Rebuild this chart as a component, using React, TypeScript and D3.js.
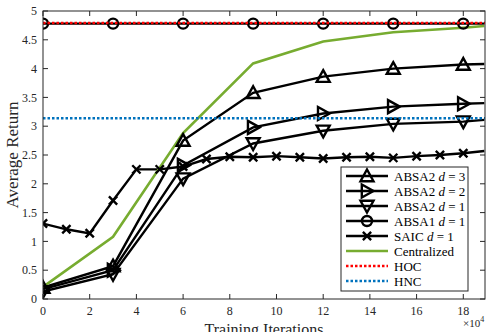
import * as d3 from 'd3';

const absaIters = [0, 3, 6, 9, 12, 15, 18, 18.9];
const absa2d3 = [0.2, 0.57, 2.75, 3.58, 3.86, 4.0, 4.07, 4.08];
const absa2d2 = [0.17, 0.5, 2.32, 2.98, 3.22, 3.34, 3.39, 3.4];
const absa2d1 = [0.13, 0.43, 2.09, 2.7, 2.92, 3.04, 3.08, 3.11];
const absa1d1 = [4.78, 4.78, 4.78, 4.78, 4.78, 4.78, 4.78, 4.78];
const centralized = [0.21, 1.08, 2.88, 4.09, 4.47, 4.63, 4.71, 4.74];

const saicIters = [0, 1, 2, 3, 4, 5, 6, 7, 8, 9, 10, 11, 12, 13, 14, 15, 16, 17, 18, 18.9];
const saic = [1.31, 1.21, 1.14, 1.71, 2.25, 2.25, 2.3, 2.43, 2.47, 2.46, 2.48, 2.46, 2.44, 2.46, 2.47, 2.45, 2.48, 2.5, 2.53, 2.57];

const hoc = 4.79;
const hnc = 3.14;

const xTicks = [0, 2, 4, 6, 8, 10, 12, 14, 16, 18];
const yTicks = [0, 0.5, 1, 1.5, 2, 2.5, 3, 3.5, 4, 4.5, 5];

type Marker = 'up' | 'right' | 'down' | 'circle' | 'cross' | 'none';

const W = 486, H = 332;
const m = { left: 43, right: 1, top: 11, bottom: 33 };
const AX = '#262626';
const FONT = '"Liberation Serif", "Times New Roman", serif';

function markerPath(kind: Marker, s: number) {
  const r = s / 2;
  if (kind === 'up') return `M0,${-r}L${r},${r * 0.8}L${-r},${r * 0.8}Z`;
  if (kind === 'down') return `M0,${r}L${r},${-r * 0.8}L${-r},${-r * 0.8}Z`;
  if (kind === 'right') return `M${r},0L${-r * 0.8},${r}L${-r * 0.8},${-r}Z`;
  if (kind === 'cross') return `M${-r * 0.75},${-r * 0.75}L${r * 0.75},${r * 0.75}M${-r * 0.75},${r * 0.75}L${r * 0.75},${-r * 0.75}`;
  return '';
}

function MarkerShape({ kind, x, y }: { kind: Marker; x: number; y: number }) {
  if (kind === 'none') return null;
  if (kind === 'circle')
    return <circle cx={x} cy={y} r={5} fill="none" stroke="black" strokeWidth={2.4} />;
  return (
    <path d={markerPath(kind, kind === 'cross' ? 11 : 13)} transform={`translate(${x},${y})`}
      fill="none" stroke="black" strokeWidth={2.4} strokeLinejoin="miter" />
  );
}

export default function App() {
  const x = d3.scaleLinear().domain([0, 18.93]).range([m.left, W - m.right]);
  const y = d3.scaleLinear().domain([0, 5]).range([H - m.bottom, m.top]);
  const line = d3.line<[number, number]>().x(d => x(d[0])).y(d => y(d[1]));

  const series = [
    { name: 'ABSA2', d: '3', xs: absaIters, ys: absa2d3, marker: 'up' as Marker },
    { name: 'ABSA2', d: '2', xs: absaIters, ys: absa2d2, marker: 'right' as Marker },
    { name: 'ABSA2', d: '1', xs: absaIters, ys: absa2d1, marker: 'down' as Marker },
    { name: 'ABSA1', d: '1', xs: absaIters, ys: absa1d1, marker: 'circle' as Marker },
    { name: 'SAIC', d: '1', xs: saicIters, ys: saic, marker: 'cross' as Marker },
  ];

  const x0 = x.range()[0], x1 = x.range()[1];
  const yb = y.range()[0], yt = y.range()[1];

  const lg = { left: 341, top: 167, w: 127, h: 124, row: 15 };

  return (
    <svg width={W} height={H} style={{ position: 'absolute', left: 0, top: 0, background: 'white' }}
      fontFamily={FONT}>
      <defs>
        <clipPath id="plot"><rect x={x0} y={yt} width={x1 - x0} height={yb - yt} /></clipPath>
      </defs>

      {/* data */}
      <g clipPath="url(#plot)">
        {series.map((s, i) => (
          <path key={'l' + i} d={line(s.xs.map((v, j) => [v, s.ys[j]]))!} fill="none"
            stroke="black" strokeWidth={2.4} />
        ))}
        <path d={line(absaIters.map((v, j) => [v, centralized[j]]))!} fill="none" stroke="#77AC30" strokeWidth={2.6} />
        {series.map((s, i) => (
          <g key={'m' + i}>
            {s.xs.slice(0, -1).map((v, j) => (
              <MarkerShape key={j} kind={s.marker} x={x(v)} y={y(s.ys[j])} />
            ))}
          </g>
        ))}
        <line x1={x0} x2={x1} y1={y(hoc)} y2={y(hoc)} stroke="#FF0000" strokeWidth={2.5} strokeDasharray="2.5,2" />
        <line x1={x0} x2={x1} y1={y(hnc)} y2={y(hnc)} stroke="#0072BD" strokeWidth={2.5} strokeDasharray="2.5,2" />
      </g>

      {/* box and ticks */}
      <rect x={x0} y={yt} width={x1 - x0} height={yb - yt} fill="none" stroke={AX} strokeWidth={1} />
      {xTicks.map(t => (
        <g key={'xt' + t}>
          <line x1={x(t)} x2={x(t)} y1={yb} y2={yb - 5} stroke={AX} />
          <line x1={x(t)} x2={x(t)} y1={yt} y2={yt + 5} stroke={AX} />
          <text x={x(t)} y={yb + 16} textAnchor="middle" fontSize={12} fill={AX}>{t}</text>
        </g>
      ))}
      {yTicks.map(t => (
        <g key={'yt' + t}>
          <line x1={x0} x2={x0 + 5} y1={y(t)} y2={y(t)} stroke={AX} />
          <line x1={x1} x2={x1 - 5} y1={y(t)} y2={y(t)} stroke={AX} />
          <text x={x0 - 6} y={y(t) + 4.2} textAnchor="end" fontSize={12} fill={AX}>{t}</text>
        </g>
      ))}
      <text x={(x0 + x1) / 2} y={yb + 36} textAnchor="middle" fontSize={16} fill={AX}>Training Iterations</text>
      <text x={463} y={327} fontSize={11} fill={AX}>×10<tspan dy={-5} fontSize={8}>4</tspan></text>
      <text transform={`translate(18,${(yt + yb) / 2}) rotate(-90)`} textAnchor="middle" fontSize={17} fill={AX}>Average Return</text>

      {/* legend */}
      <g>
        <rect x={lg.left} y={lg.top} width={lg.w} height={lg.h} fill="white" stroke={AX} strokeWidth={1} />
        {series.map((s, i) => {
          const cy = lg.top + 9 + i * lg.row;
          return (
            <g key={'lg' + i}>
              <line x1={lg.left + 5} x2={lg.left + 47} y1={cy} y2={cy} stroke="black" strokeWidth={2.4} />
              <MarkerShape kind={s.marker} x={lg.left + 26} y={cy} />
              <text x={lg.left + 53} y={cy + 4.5} fontSize={13} fill="black">
                {s.name} <tspan fontStyle="italic">d</tspan> = {s.d}
              </text>
            </g>
          );
        })}
        {[
          { label: 'Centralized', color: '#77AC30', dash: '' },
          { label: 'HOC', color: '#FF0000', dash: '2.5,2' },
          { label: 'HNC', color: '#0072BD', dash: '2.5,2' },
        ].map((e, k) => {
          const cy = lg.top + 9 + (k + 5) * lg.row;
          return (
            <g key={'lgx' + k}>
              <line x1={lg.left + 5} x2={lg.left + 47} y1={cy} y2={cy} stroke={e.color} strokeWidth={2.5}
                strokeDasharray={e.dash || undefined} />
              <text x={lg.left + 53} y={cy + 4.5} fontSize={13} fill="black">{e.label}</text>
            </g>
          );
        })}
      </g>
    </svg>
  );
}
